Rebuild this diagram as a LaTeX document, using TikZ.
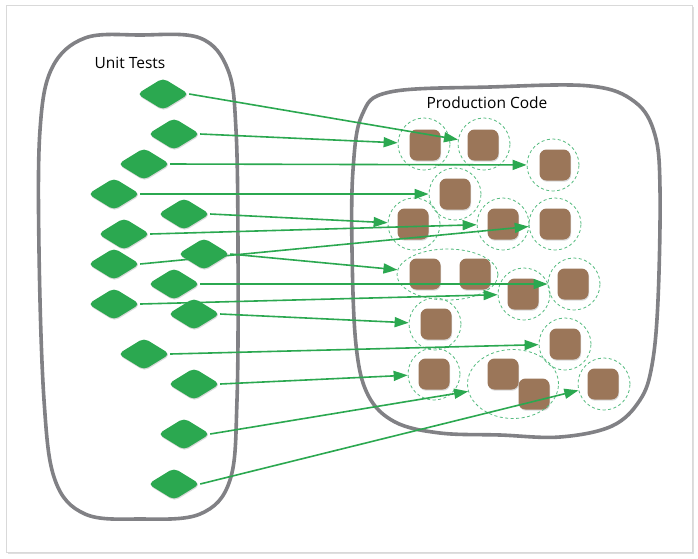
\documentclass[tikz,border=0pt]{standalone}
\usepackage{fontspec}
\setmainfont{Open Sans}
\usetikzlibrary{shapes.geometric, arrows.meta, shadows}
\definecolor{G1}{HTML}{2BA850}
\definecolor{G2}{HTML}{55BB80}
\definecolor{B1}{HTML}{9B7659}
\definecolor{R1}{HTML}{818185}
\pgfdeclarelayer{bg}
\pgfdeclarelayer{fg}
\pgfsetlayers{bg,main,fg}

\begin{document}
\begin{tikzpicture}[
	x=1pt, y=-1pt,
	test/.style = {diamond, fill=G1, minimum width=52pt, minimum height=32pt, inner sep=0pt, rounded corners=5pt, drop shadow={shadow xshift=0.6pt, shadow yshift=-1.2pt, opacity=0.3}},
	unit/.style = {rectangle, fill=B1, minimum size=31pt, inner sep=0pt, rounded corners=7pt, drop shadow={shadow xshift=0.6pt, shadow yshift=-1.2pt, opacity=0.3}},
	group/.style = {circle, draw=G2, dash pattern=on 3pt off 2.5pt, line width=0.8pt, minimum size=52pt, inner sep=0pt},
	blob/.style = {draw=R1, line width=3.6pt},
	title/.style = {font=\fontsize{15.5}{18}\selectfont},
  every edge/.style={draw=G1, -{Triangle[length=14pt, width=10pt]}, line width=1.6pt}
]
  \useasboundingbox (0,0) rectangle (698,558);
  \begin{pgfonlayer}{bg}
  \draw[draw=black!15, fill=white, drop shadow={shadow xshift=1.5pt, shadow yshift=-1.5pt, opacity=0.25}] (6,5) rectangle (692,552);
  % Blobs
  \draw[blob] plot[smooth cycle, tension=0.6] coordinates {(140,35) (200,38) (228,70) (236,130) (238,250) (237,400) (230,480) (200,514) (140,519) (85,514) (55,480) (44,400) (39,250) (40,130) (52,68) (85,38)};
  \draw[blob] plot[smooth cycle, tension=0.6] coordinates {(490,87) (590,86) (635,102) (655,135) (660,190) (658,300) (652,365) (640,400) (612,426) (560,437) (500,435) (440,433) (395,422) (368,395) (356,345) (352,250) (353,170) (362,115) (390,92)};
  \end{pgfonlayer}

  \node[title] at (130,63) (ut) {Unit Tests};
  \node[title] at (487,103) (pc) {Production Code};

  % Define code units
  \node[unit] at (425,145) (cA) {};
  \node[unit] at (483,145) (cB) {};
  \node[unit] at (555,165) (cC) {};
  \node[unit] at (455,194) (cD) {};
  \node[unit] at (413,224) (cE) {};
  \node[unit] at (503,224) (cF) {};
  \node[unit] at (555,224) (cG) {};
  \node[unit] at (425,274) (cH) {};
  \node[unit] at (475,274) (cI) {};
  \node[unit] at (523,294) (cJ) {};
  \node[unit] at (573,284) (cK) {};
  \node[unit] at (436,324) (cL) {};
  \node[unit] at (565,344) (cM) {};
  \node[unit] at (434,374) (cN) {};
  \node[unit] at (503,374) (cO) {};
  \node[unit] at (534,394) (cP) {};
  \node[unit] at (603,384) (cQ) {};

  % Define groups
  \node[group] at (424,144) (gA) {};
  \node[group] at (484,144) (gB) {};
  \node[group] at (553,165) (gC) {};
  \node[group] at (455,194) (gD) {};
  \node[group] at (414,224) (gE) {};
  \node[group] at (503,224) (gF) {};
  \node[group] at (555,224) (gG) {};
  \node[group, ellipse, minimum width=101pt, minimum height=51pt] at (447.5,274.5) (gHI) {};
  \node[group] at (524,294) (gJ) {};
  \node[group] at (574,284) (gK) {};
  \node[group] at (435,324) (gL) {};
  \node[group] at (565,344) (gM) {};
  \node[group] at (434,374) (gN) {};
  \node[group, ellipse, minimum width=91pt, minimum height=69pt] at (513,384) (gOP) {};
  \node[group] at (604,384) (gQ) {};

  % Define tests
  \begin{pgfonlayer}{fg}
  \node[test] at (163,94) (t1) {};
  \node[test] at (174,134) (t2) {};
  \node[test] at (144,164) (t3) {};
  \node[test] at (114,194) (t4) {};
  \node[test] at (184,214) (t5) {};
  \node[test] at (124,234) (t6) {};
  \node[test] at (114,264) (t7) {};
  \node[test] at (204,254) (t8) {};
  \node[test] at (174,284) (t9) {};
  \node[test] at (114,304) (t10) {};
  \node[test] at (194,314) (t11) {};
  \node[test] at (144,354) (t12) {};
  \node[test] at (194,384) (t13) {};
  \node[test] at (184,434) (t14) {};
  \node[test] at (174,484) (t15) {};
  \end{pgfonlayer}

  \draw (t1.east) edge (gB);
  \draw (t2.east) edge (gA);
  \draw (t3.east) edge (gC);
  \draw (t4.east) edge (gD);
  \draw (t5.east) edge (gE);
  \draw (t6.east) edge (gF);
  \draw (t7.east) edge (gG);
  \draw (t8.east) edge (gHI);
  \draw (t9.east) edge (gK);
  \draw (t10.east) edge (gJ);
  \draw (t11.east) edge (gL);
  \draw (t12.east) edge (gM);
  \draw (t13.east) edge (gN);
  \draw (t14.east) edge (gOP);
  \draw (t15.east) edge (gQ);
\end{tikzpicture}
\end{document}
